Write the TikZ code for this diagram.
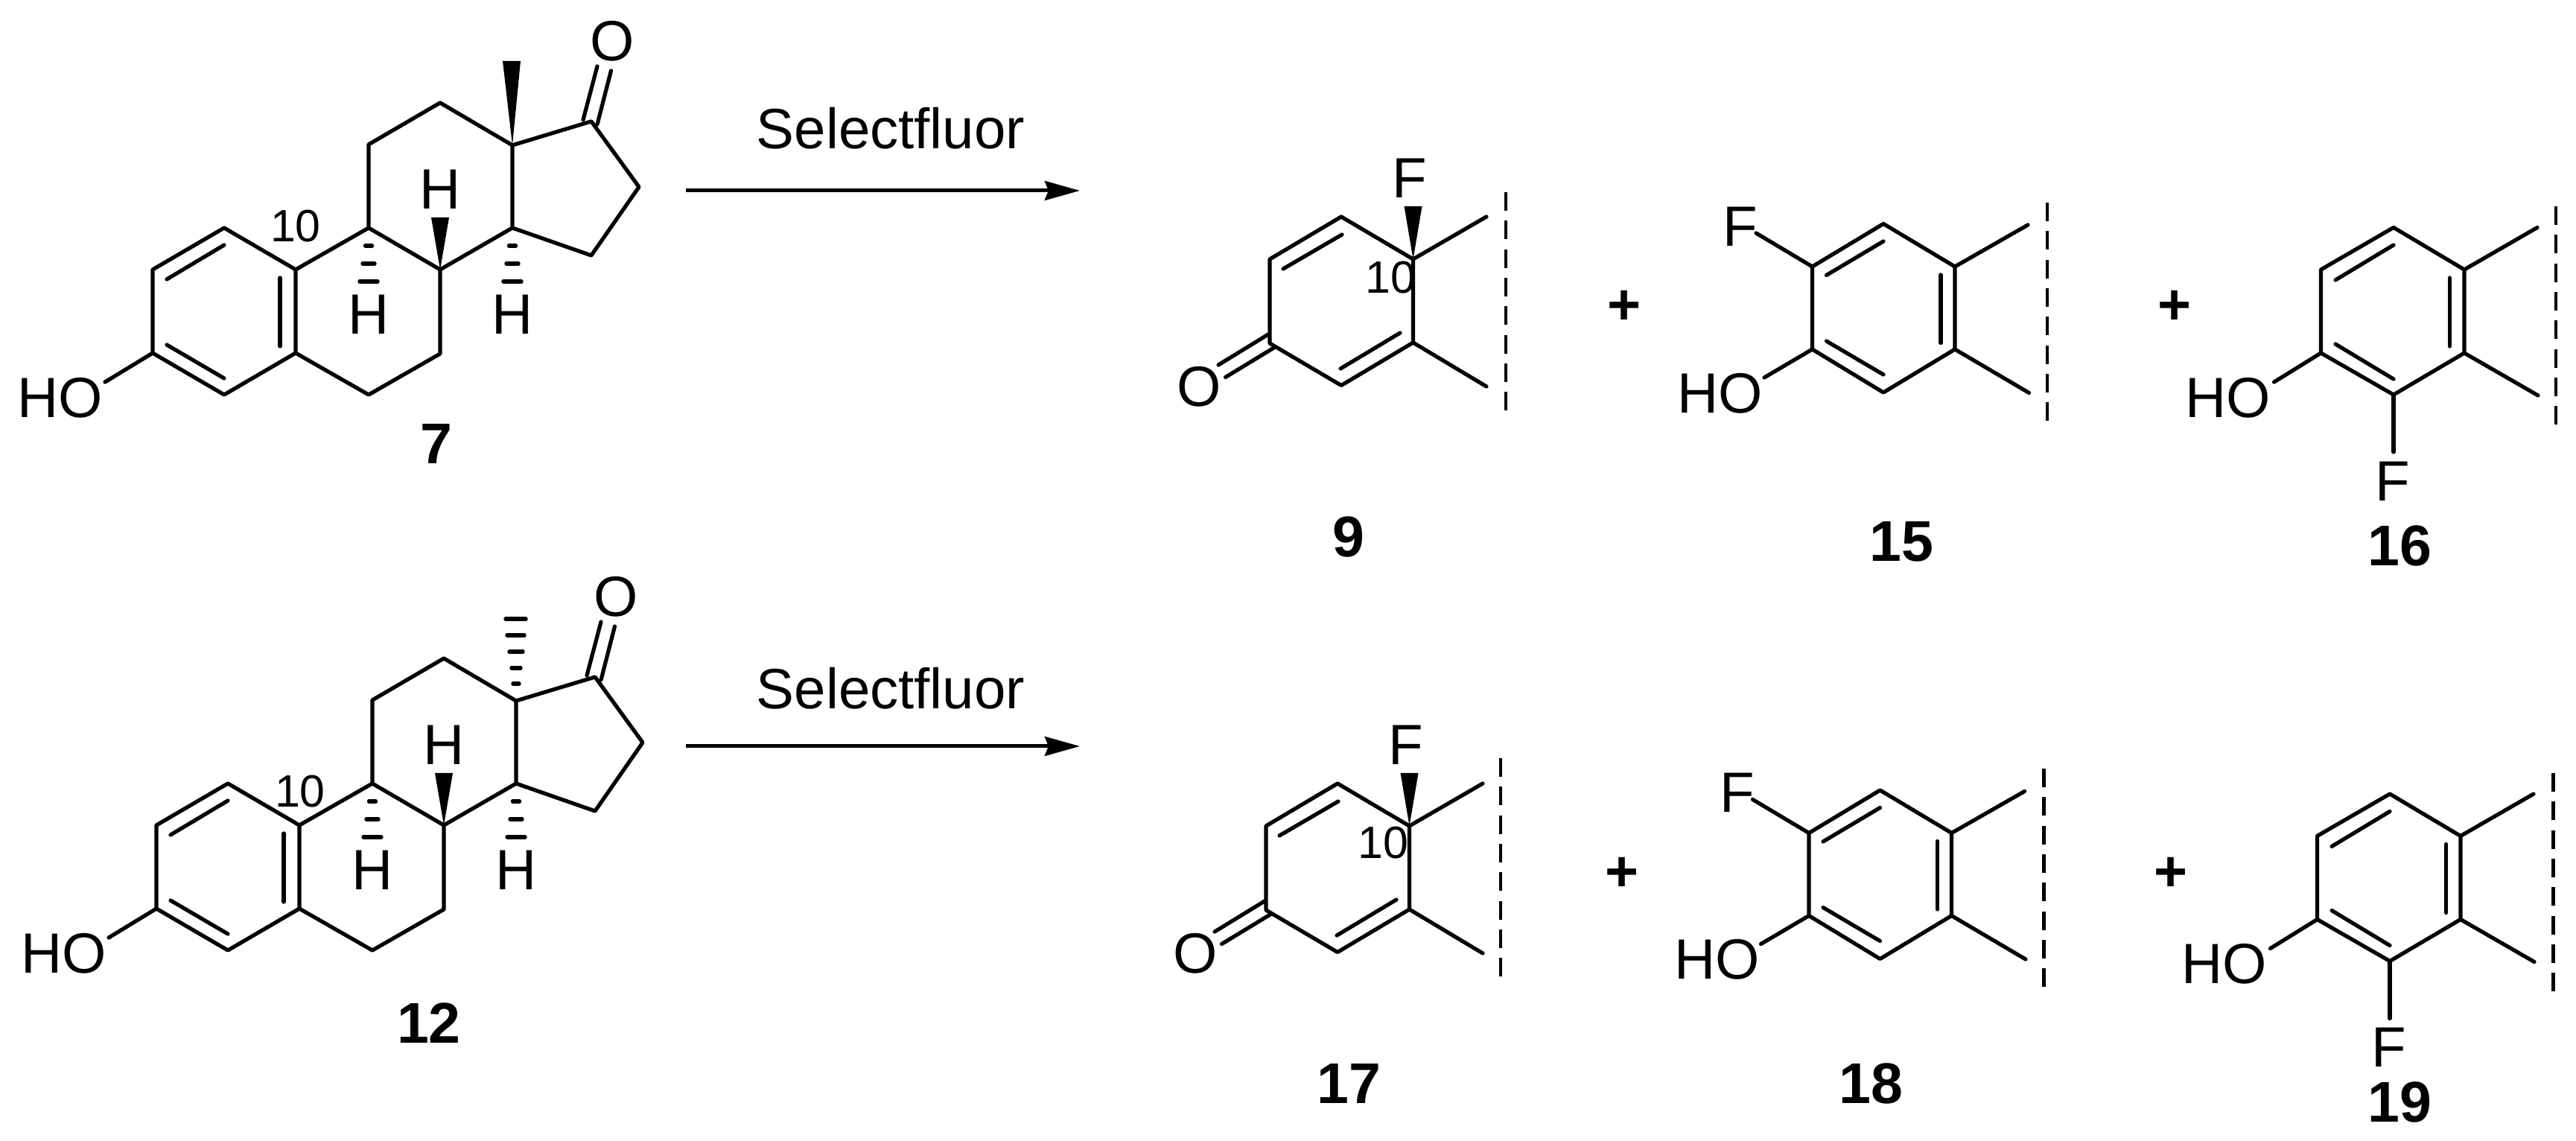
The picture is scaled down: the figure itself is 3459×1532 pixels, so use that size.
\documentclass[tikz,border=0pt]{standalone}
\usepackage{fontspec}
\setmainfont{Liberation Sans}
\usetikzlibrary{arrows.meta}
\tikzset{
  bond/.style={line width=1.25pt,line cap=round,line join=round,black},
  hashmark/.style={line width=1.3pt,line cap=round,black},
  cutline/.style={line width=1.15pt,black,dash pattern=on 6pt off 3.2pt},
  rxn/.style={line width=1.2pt,black,-{Stealth[length=11.3pt,width=6.2pt,inset=1.2pt]}},
  atomtxt/.style={inner sep=0pt,font=\fontsize{18.3}{20}\selectfont},
  plustxt/.style={inner sep=0pt,font=\fontsize{18.5}{20}\selectfont\bfseries},
  numtxt/.style={inner sep=0pt,font=\fontsize{14.6}{16}\selectfont},
  cmpd/.style={inner sep=0pt,font=\fontsize{18.5}{20}\selectfont\bfseries},
  wedgefill/.style={fill=black,draw=none}
}
% steroid skeleton: prefix, shift
\newcommand\steroidcore[2]{%
\begin{scope}[shift={#2}]
\coordinate (#1c1) at (301,306);\coordinate (#1c2) at (205,362);\coordinate (#1c3) at (205,474);
\coordinate (#1c4) at (301,530);\coordinate (#1c5) at (397,474);\coordinate (#1c10) at (397,362);
\coordinate (#1c9) at (495,306);\coordinate (#1c11) at (495,194);\coordinate (#1c12) at (591,138);
\coordinate (#1c13) at (688,195);\coordinate (#1c14) at (688,306);\coordinate (#1c8) at (591,362);
\coordinate (#1c7) at (591,475);\coordinate (#1c6) at (495,530);\coordinate (#1c17) at (794,163);
\coordinate (#1c16) at (858,251);\coordinate (#1c15) at (794,343);
\draw[bond] (#1c1)--(#1c2)--(#1c3)--(#1c4)--(#1c5)--(#1c10)--cycle;
\draw[bond] (#1c10)--(#1c9)--(#1c11)--(#1c12)--(#1c13)--(#1c14)--(#1c8)--(#1c7)--(#1c6)--(#1c5);
\draw[bond] (#1c9)--(#1c8);
\draw[bond] (#1c13)--(#1c17)--(#1c16)--(#1c15)--(#1c14);
\coordinate (#1d1a) at (376,373);\coordinate (#1d1b) at (376,465);
\coordinate (#1d2a) at (301,329);\coordinate (#1d2b) at (224,375);
\coordinate (#1d3a) at (224,463);\coordinate (#1d3b) at (301,508);
\draw[bond] (#1d1a)--(#1d1b);\draw[bond] (#1d2a)--(#1d2b);\draw[bond] (#1d3a)--(#1d3b);
\coordinate (#1oa1) at (783,161);\coordinate (#1oa2) at (802,89);
\coordinate (#1ob1) at (802,167);\coordinate (#1ob2) at (820.5,95);
\draw[bond] (#1oa1)--(#1oa2);\draw[bond] (#1ob1)--(#1ob2);
\node[atomtxt] (#1O) at (822,55) {O};
\node[atomtxt] (#1HO) at (81,534) {HO};
\coordinate (#1hoe) at (141,513);
\draw[bond] (#1c3)--(#1hoe);
\node[atomtxt] (#1H8) at (591,254) {H};
\node[atomtxt] (#1H9) at (495,422) {H};
\node[atomtxt] (#1H14) at (688,422) {H};
\fill[wedgefill] (#1c8)--(579,292)--(603,292)--cycle;
\draw[hashmark] (490.5,330)--(499.5,330);
\draw[hashmark] (487,354)--(503,354);
\draw[hashmark] (483,378)--(507,378);
\draw[hashmark] (683.5,330)--(692.5,330);
\draw[hashmark] (680,354)--(696,354);
\draw[hashmark] (676,378)--(700,378);
\end{scope}}
% dienone: prefix, shift
\newcommand\dienone[2]{%
\begin{scope}[shift={#2}]
\coordinate (#1a) at (1705,348);\coordinate (#1b) at (1801,291);\coordinate (#1c) at (1897.5,348);
\coordinate (#1d) at (1897.5,460);\coordinate (#1e) at (1801,517.5);\coordinate (#1f) at (1705,461);
\draw[bond] (#1a)--(#1b)--(#1c)--(#1d)--(#1e)--(#1f)--cycle;
\coordinate (#1m1) at (1996,291);\coordinate (#1m2) at (1996,519);
\draw[bond] (#1c)--(#1m1);\draw[bond] (#1d)--(#1m2);
\coordinate (#1i1) at (1723,361);\coordinate (#1i2) at (1802,315);
\coordinate (#1i3) at (1800,495);\coordinate (#1i4) at (1880,447);
\draw[bond] (#1i1)--(#1i2);\draw[bond] (#1i3)--(#1i4);
\coordinate (#1o1) at (1636,490);\coordinate (#1o2) at (1703,449);
\coordinate (#1o3) at (1645.5,506.5);\coordinate (#1o4) at (1710.5,467);
\draw[bond] (#1o1)--(#1o2);\draw[bond] (#1o3)--(#1o4);
\node[atomtxt] (#1O) at (1610,519) {O};
\node[atomtxt] (#1F) at (1893,239) {F};
\fill[wedgefill] (#1c)--(1885.5,277)--(1909.5,277)--cycle;
\end{scope}}
% fluorophenols: prefix, shift
\newcommand\phenolA[2]{%
\begin{scope}[shift={#2}]
\coordinate (#1a) at (2433.5,358);\coordinate (#1b) at (2529,300.5);\coordinate (#1c) at (2625,358);
\coordinate (#1d) at (2625,469);\coordinate (#1e) at (2529,527);\coordinate (#1f) at (2433.5,469);
\draw[bond] (#1a)--(#1b)--(#1c)--(#1d)--(#1e)--(#1f)--cycle;
\coordinate (#1m1) at (2723,302);\coordinate (#1m2) at (2724.5,527.5);
\draw[bond] (#1c)--(#1m1);\draw[bond] (#1d)--(#1m2);
\coordinate (#1i1) at (2452.5,369.5);\coordinate (#1i2) at (2529,324);
\coordinate (#1i3) at (2606,369);\coordinate (#1i4) at (2606,460.5);
\coordinate (#1i5) at (2452.5,458);\coordinate (#1i6) at (2529,503);
\draw[bond] (#1i1)--(#1i2);\draw[bond] (#1i3)--(#1i4);\draw[bond] (#1i5)--(#1i6);
\node[atomtxt] (#1F) at (2337,304) {F};
\node[atomtxt] (#1HO) at (2310,528) {HO};
\coordinate (#1fe) at (2358,313);\coordinate (#1hoe) at (2369,507);
\draw[bond] (#1a)--(#1fe);\draw[bond] (#1f)--(#1hoe);
\end{scope}}
\newcommand\phenolB[2]{%
\begin{scope}[shift={#2}]
\coordinate (#1a) at (3116.5,362);\coordinate (#1b) at (3214,305.5);\coordinate (#1c) at (3309,362);
\coordinate (#1d) at (3309,474);\coordinate (#1e) at (3214,530);\coordinate (#1f) at (3116.5,474);
\draw[bond] (#1a)--(#1b)--(#1c)--(#1d)--(#1e)--(#1f)--cycle;
\coordinate (#1m1) at (3407,305.5);\coordinate (#1m2) at (3408,531);
\draw[bond] (#1c)--(#1m1);\draw[bond] (#1d)--(#1m2);
\coordinate (#1i1) at (3136,376);\coordinate (#1i2) at (3214,329);
\coordinate (#1i3) at (3289.6,373);\coordinate (#1i4) at (3289.6,465);
\coordinate (#1i5) at (3136,462);\coordinate (#1i6) at (3214,509);
\draw[bond] (#1i1)--(#1i2);\draw[bond] (#1i3)--(#1i4);\draw[bond] (#1i5)--(#1i6);
\node[atomtxt] (#1HO) at (2992,534) {HO};
\coordinate (#1hoe) at (3053.5,513);
\draw[bond] (#1f)--(#1hoe);
\coordinate (#1fe) at (3214,607);
\draw[bond] (#1e)--(#1fe);
\node[atomtxt] (#1F) at (3212.5,646) {F};
\end{scope}}
\begin{document}
\begin{tikzpicture}[x=0.24pt,y=-0.24pt]
\useasboundingbox (0,0) rectangle (3459,1532);
% row 1
\steroidcore{s}{(0,0)}
\coordinate (sme) at (687,82);
\fill[wedgefill] (sc13)--(675,82)--(699,82)--cycle;
\node[numtxt] (sten) at (397,304) {10};
\node[cmpd] (l7) at (586,596) {7};
\coordinate (ar1a) at (921,256);\coordinate (ar1b) at (1450,256);
\draw[rxn] (ar1a)--(ar1b);
\node[atomtxt] (r1) at (1196,172) {Selectfluor};
\dienone{p}{(0,0)}
\node[numtxt] (pten) at (1867,373) {10};
\coordinate (pc1) at (2022,258);\coordinate (pc2) at (2022,552);
\draw[cutline] (pc1)--(pc2);
\node[plustxt] (pl1) at (2181.4,413) {+};
\node[cmpd] (l9) at (1811,721) {9};
\phenolA{q}{(0,0)}
\coordinate (qc1) at (2749,272);\coordinate (qc2) at (2749,566);
\draw[cutline] (qc1)--(qc2);
\node[plustxt] (pl2) at (2919.5,413) {+};
\node[cmpd] (l15) at (2553,727) {15};
\phenolB{r}{(0,0)}
\coordinate (rc1) at (3432,277);\coordinate (rc2) at (3432,571);
\draw[cutline] (rc1)--(rc2);
\node[cmpd] (l16) at (3222,733) {16};
% row 2
\steroidcore{t}{(5,746)}
\draw[hashmark] (679,831)--(706,831);
\draw[hashmark] (681,853)--(704,853);
\draw[hashmark] (684,875)--(702,875);
\draw[hashmark] (687,897)--(699,897);
\draw[hashmark] (689,918)--(697,918);
\node[numtxt] (tten) at (403,1063) {10};
\node[cmpd] (l12) at (576,1374) {12};
\coordinate (ar2a) at (921,1002);\coordinate (ar2b) at (1450,1002);
\draw[rxn] (ar2a)--(ar2b);
\node[atomtxt] (r2) at (1196,924) {Selectfluor};
\dienone{u}{(-5,761)}
\node[numtxt] (uten) at (1857,1132) {10};
\coordinate (uc1) at (2015,1018);\coordinate (uc2) at (2015,1313);
\draw[cutline] (uc1)--(uc2);
\node[plustxt] (pl3) at (2177.6,1173.5) {+};
\node[cmpd] (l17) at (1811,1455) {17};
\phenolA{v}{(-4.5,760.5)}
\coordinate (vc1) at (2744.6,1032);\coordinate (vc2) at (2744.6,1326);
\draw[cutline] (vc1)--(vc2);
\node[plustxt] (pl4) at (2914.7,1173.5) {+};
\node[cmpd] (l18) at (2512,1455) {18};
\phenolB{w}{(-5,760.5)}
\coordinate (wc1) at (3428.4,1038);\coordinate (wc2) at (3428.4,1331);
\draw[cutline] (wc1)--(wc2);
\node[cmpd] (l19) at (3222,1480) {19};
\end{tikzpicture}
\end{document}
